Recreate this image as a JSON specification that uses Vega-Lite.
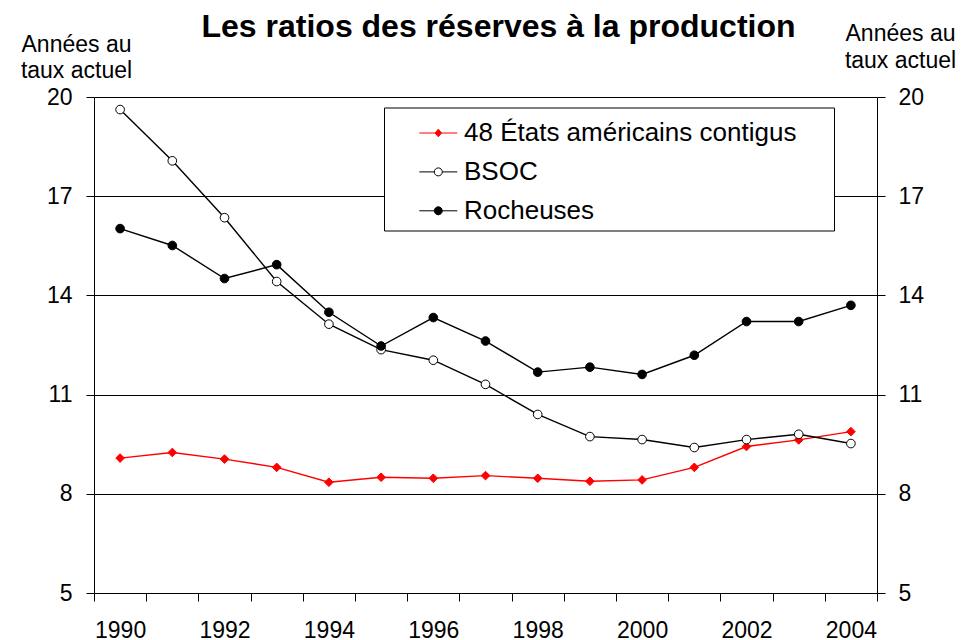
{
  "$schema": "https://vega.github.io/schema/vega-lite/v6.json",
  "width": 783,
  "height": 496,
  "autosize": {"type": "none"},
  "padding": {"left": 94, "top": 97, "right": 89, "bottom": 47},
  "background": "white",
  "config": {"font": "Liberation Sans", "view": {"stroke": null}},
  "title": {"text": "Les ratios des réserves à la production", "font": "Liberation Sans", "fontSize": 32, "fontWeight": "bold", "color": "#000000", "anchor": "middle", "dx": 13, "dy": 25},
  "data": {"values": [
    {"year": 1990, "series": "48 États américains contigus", "value": 9.08},
    {"year": 1991, "series": "48 États américains contigus", "value": 9.25},
    {"year": 1992, "series": "48 États américains contigus", "value": 9.05},
    {"year": 1993, "series": "48 États américains contigus", "value": 8.80},
    {"year": 1994, "series": "48 États américains contigus", "value": 8.35},
    {"year": 1995, "series": "48 États américains contigus", "value": 8.50},
    {"year": 1996, "series": "48 États américains contigus", "value": 8.47},
    {"year": 1997, "series": "48 États américains contigus", "value": 8.55},
    {"year": 1998, "series": "48 États américains contigus", "value": 8.47},
    {"year": 1999, "series": "48 États américains contigus", "value": 8.38},
    {"year": 2000, "series": "48 États américains contigus", "value": 8.42},
    {"year": 2001, "series": "48 États américains contigus", "value": 8.80},
    {"year": 2002, "series": "48 États américains contigus", "value": 9.43},
    {"year": 2003, "series": "48 États américains contigus", "value": 9.63},
    {"year": 2004, "series": "48 États américains contigus", "value": 9.88},
    {"year": 1990, "series": "BSOC", "value": 19.62},
    {"year": 1991, "series": "BSOC", "value": 18.07},
    {"year": 1992, "series": "BSOC", "value": 16.35},
    {"year": 1993, "series": "BSOC", "value": 14.42},
    {"year": 1994, "series": "BSOC", "value": 13.13},
    {"year": 1995, "series": "BSOC", "value": 12.36},
    {"year": 1996, "series": "BSOC", "value": 12.04},
    {"year": 1997, "series": "BSOC", "value": 11.31},
    {"year": 1998, "series": "BSOC", "value": 10.40},
    {"year": 1999, "series": "BSOC", "value": 9.73},
    {"year": 2000, "series": "BSOC", "value": 9.64},
    {"year": 2001, "series": "BSOC", "value": 9.40},
    {"year": 2002, "series": "BSOC", "value": 9.64},
    {"year": 2003, "series": "BSOC", "value": 9.80},
    {"year": 2004, "series": "BSOC", "value": 9.52},
    {"year": 1990, "series": "Rocheuses", "value": 16.02},
    {"year": 1991, "series": "Rocheuses", "value": 15.51},
    {"year": 1992, "series": "Rocheuses", "value": 14.51},
    {"year": 1993, "series": "Rocheuses", "value": 14.93},
    {"year": 1994, "series": "Rocheuses", "value": 13.49},
    {"year": 1995, "series": "Rocheuses", "value": 12.47},
    {"year": 1996, "series": "Rocheuses", "value": 13.33},
    {"year": 1997, "series": "Rocheuses", "value": 12.62},
    {"year": 1998, "series": "Rocheuses", "value": 11.68},
    {"year": 1999, "series": "Rocheuses", "value": 11.83},
    {"year": 2000, "series": "Rocheuses", "value": 11.61},
    {"year": 2001, "series": "Rocheuses", "value": 12.19},
    {"year": 2002, "series": "Rocheuses", "value": 13.21},
    {"year": 2003, "series": "Rocheuses", "value": 13.21},
    {"year": 2004, "series": "Rocheuses", "value": 13.70}
  ]},
  "layer": [
    {
      "mark": {"type": "line", "strokeWidth": 1.4},
      "encoding": {
        "x": {"field": "year", "type": "quantitative",
          "scale": {"domain": [1989.5, 2004.5], "nice": false, "zero": false},
          "axis": {"orient": "bottom", "values": [1989.5, 1990.5, 1991.5, 1992.5, 1993.5, 1994.5, 1995.5, 1996.5, 1997.5, 1998.5, 1999.5, 2000.5, 2001.5, 2002.5, 2003.5, 2004.5],
            "labels": false, "grid": false, "ticks": true, "tickSize": 8, "tickWidth": 1, "tickColor": "#000000", "domain": true, "domainColor": "#000000", "domainWidth": 1, "title": null}},
        "y": {"field": "value", "type": "quantitative",
          "scale": {"domain": [5, 20], "nice": false, "zero": false},
          "axis": {"orient": "left", "values": [5, 8, 11, 14, 17, 20], "grid": true, "gridColor": "#000000", "gridWidth": 1, "gridOpacity": 1,
            "domainColor": "#000000", "domainWidth": 1, "tickColor": "#000000", "tickSize": 8, "tickWidth": 1,
            "labelFont": "Liberation Sans", "labelFontSize": 23, "labelColor": "#000000", "labelPadding": 14, "labelFlush": false, "labelOverlap": false,
            "title": ["Années au", "taux actuel"], "titleAngle": 0, "titleAlign": "center", "titleBaseline": "alphabetic",
            "titleX": -18, "titleY": -46, "titleFont": "Liberation Sans", "titleFontSize": 23, "titleFontWeight": "normal", "titleColor": "#000000", "titleLineHeight": 26.5}},
        "stroke": {"field": "series", "type": "nominal",
          "scale": {"domain": ["48 États américains contigus", "BSOC", "Rocheuses"], "range": ["#ff0000", "#000000", "#000000"]},
          "legend": null}
      }
    },
    {
      "mark": {"type": "point", "filled": true, "size": 75, "strokeWidth": 1, "opacity": 1},
      "encoding": {
        "x": {"field": "year", "type": "quantitative",
          "scale": {"domain": [1989.5, 2004.5], "nice": false, "zero": false},
          "axis": {"orient": "bottom", "values": [1990, 1992, 1994, 1996, 1998, 2000, 2002, 2004], "format": "d",
            "ticks": false, "domain": false, "grid": false, "labelFont": "Liberation Sans", "labelFontSize": 23, "labelColor": "#000000",
            "labelPadding": 26, "labelFlush": false, "labelOverlap": false, "title": null}},
        "y": {"field": "value", "type": "quantitative",
          "scale": {"domain": [5, 20], "nice": false, "zero": false},
          "axis": {"orient": "right", "values": [5, 8, 11, 14, 17, 20], "grid": false,
            "domainColor": "#000000", "domainWidth": 1, "tickColor": "#000000", "tickSize": 8, "tickWidth": 1,
            "labelFont": "Liberation Sans", "labelFontSize": 23, "labelColor": "#000000", "labelPadding": 13, "labelFlush": false, "labelOverlap": false,
            "title": ["Années au", "taux actuel"], "titleAngle": 0, "titleAlign": "center", "titleBaseline": "alphabetic",
            "titleX": 23, "titleY": -56.5, "titleFont": "Liberation Sans", "titleFontSize": 23, "titleFontWeight": "normal", "titleColor": "#000000", "titleLineHeight": 26.5}},
        "shape": {"field": "series", "type": "nominal",
          "scale": {"domain": ["48 États américains contigus", "BSOC", "Rocheuses"], "range": ["diamond", "circle", "circle"]},
          "legend": null},
        "fill": {"field": "series", "type": "nominal",
          "scale": {"domain": ["48 États américains contigus", "BSOC", "Rocheuses"], "range": ["#ff0000", "#ffffff", "#000000"]},
          "legend": null},
        "stroke": {"field": "series", "type": "nominal",
          "scale": {"domain": ["48 États américains contigus", "BSOC", "Rocheuses"], "range": ["#ff0000", "#000000", "#000000"]},
          "legend": null}
      }
    },
    {
      "transform": [{"filter": "false"}],
      "mark": {"type": "point", "filled": true, "size": 1444, "strokeWidth": 1, "opacity": 1},
      "encoding": {
        "shape": {"field": "series", "type": "nominal",
          "scale": {"domain": ["48 États américains contigus", "BSOC", "Rocheuses"],
            "range": [
              "M20.39,0M-1,0H1M0,-0.2L0.17,0L0,0.2L-0.17,0Z",
              "M20.39,0M-1,0H-0.21M0.21,0H1M0.21,0A0.21,0.21,0,1,1,-0.21,0A0.21,0.21,0,1,1,0.21,0Z",
              "M20.39,0M-1,0H-0.21M0.21,0H1M0.21,0A0.21,0.21,0,1,1,-0.21,0A0.21,0.21,0,1,1,0.21,0Z"
            ]},
          "legend": {"orient": "none", "legendX": 290, "legendY": 10.5, "title": null, "padding": 6,
            "strokeColor": "#000000", "fillColor": "#ffffff", "symbolSize": 1444, "symbolStrokeWidth": 1, "symbolOpacity": 1, "symbolOffset": 28.8,
            "labelFont": "Liberation Sans", "labelFontSize": 26, "labelColor": "#000000", "labelLimit": 600, "labelOffset": 6.2, "rowPadding": 5.9}},
        "fill": {"field": "series", "type": "nominal",
          "scale": {"domain": ["48 États américains contigus", "BSOC", "Rocheuses"], "range": ["#ff0000", "#ffffff", "#000000"]},
          "legend": {"orient": "none", "legendX": 290, "legendY": 10.5, "title": null, "padding": 6,
            "strokeColor": "#000000", "fillColor": "#ffffff", "symbolSize": 1444, "symbolStrokeWidth": 1, "symbolOpacity": 1, "symbolOffset": 28.8,
            "labelFont": "Liberation Sans", "labelFontSize": 26, "labelColor": "#000000", "labelLimit": 600, "labelOffset": 6.2, "rowPadding": 5.9}},
        "stroke": {"field": "series", "type": "nominal",
          "scale": {"domain": ["48 États américains contigus", "BSOC", "Rocheuses"], "range": ["#ff0000", "#000000", "#000000"]},
          "legend": {"orient": "none", "legendX": 290, "legendY": 10.5, "title": null, "padding": 6,
            "strokeColor": "#000000", "fillColor": "#ffffff", "symbolSize": 1444, "symbolStrokeWidth": 1, "symbolOpacity": 1, "symbolOffset": 28.8,
            "labelFont": "Liberation Sans", "labelFontSize": 26, "labelColor": "#000000", "labelLimit": 600, "labelOffset": 6.2, "rowPadding": 5.9}}
      }
    }
  ],
  "resolve": {
    "scale": {"shape": "independent", "fill": "independent", "stroke": "independent"},
    "axis": {"x": "independent", "y": "independent"}
  }
}
